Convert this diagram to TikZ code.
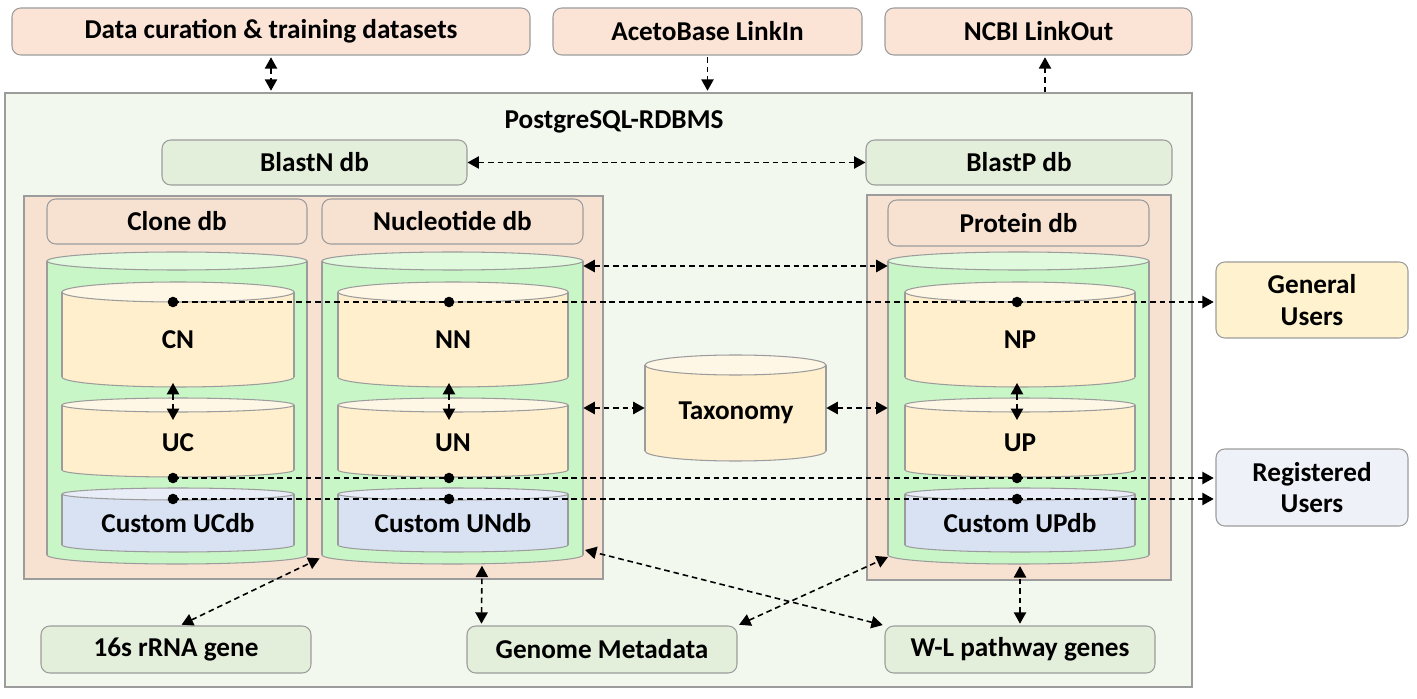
\documentclass[tikz,border=0pt]{standalone}
\usepackage{fontspec}
\setmainfont{Carlito}
\usetikzlibrary{arrows.meta,fit,calc}
\definecolor{peachtop}{HTML}{FBE4D6}
\definecolor{peachcont}{HTML}{F7E2D2}
\definecolor{outerfill}{HTML}{F3F8EF}
\definecolor{greenbox}{HTML}{E4EFDB}
\definecolor{cylgreen}{HTML}{C9F6C6}
\definecolor{cylgreentop}{HTML}{DFFADD}
\definecolor{yel}{HTML}{FFEFCC}
\definecolor{yeltop}{HTML}{FFF7E6}
\definecolor{blu}{HTML}{D9E2F3}
\definecolor{blutop}{HTML}{E8EDF8}
\definecolor{genfill}{HTML}{FFF2CE}
\definecolor{regfill}{HTML}{EEF2F8}
\definecolor{bordergray}{HTML}{9C9C9C}
\newcommand\dbcyl[9]{%
  \fill[#8, draw=bordergray, line width=0.6pt] ({(#2+#3)/2},#5) ellipse [x radius={(#3-#2)/2}, y radius=#7];
  \fill[#8] (#2,#4) rectangle (#3,#5);
  \draw[bordergray, line width=0.6pt] (#2,#4) -- (#2,#5) (#3,#4) -- (#3,#5);
  \filldraw[fill=#9, draw=bordergray, line width=0.6pt] ({(#2+#3)/2},#4) ellipse [x radius={(#3-#2)/2}, y radius=#6];
  \node[fit={(#2,#4-#6)(#3,#5+#7)}, inner sep=0pt] (#1) {};
}
\begin{document}
\begin{tikzpicture}[x=0.02cm,y=-0.02cm,
  font=\fontsize{15.5}{18}\selectfont\bfseries,
  box/.style={draw=bordergray, line width=0.6pt, rounded corners=5pt, inner sep=0pt},
  sqbox/.style={draw=bordergray, line width=0.6pt, inner sep=0pt},
  conn/.style={line width=0.9pt, dash pattern=on 3.2pt off 2.2pt},
  bi/.style={conn, {Triangle[length=6.5pt,width=7pt]}-{Triangle[length=6.5pt,width=7pt]}},
  uni/.style={conn, -{Triangle[length=6.5pt,width=7pt]}},
  dotn/.style={circle, fill=black, inner sep=0pt, minimum size=6pt},
  lbl/.style={inner sep=0pt, align=center}]
\useasboundingbox (0,0) rectangle (1417,699);
\fill[white] (0,0) rectangle (1417,699);

% top boxes
\node[box, fill=peachtop, fit={(12,8)(530,55)}] (data) {};
\node[lbl] at (data.center) {Data curation \& training datasets};
\node[box, fill=peachtop, fit={(553,8)(862,55)}] (aceto) {};
\node[lbl] at (aceto.center) {AcetoBase LinkIn};
\node[box, fill=peachtop, fit={(885,8)(1192,55)}] (ncbi) {};
\node[lbl] at (ncbi.center) {NCBI LinkOut};

% outer box
\node[sqbox, fill=outerfill, fit={(5,93)(1192,687)}] (outer) {};
\node[lbl] (pg) at (614,122) {PostgreSQL-RDBMS};

\node[box, fill=greenbox, fit={(162,140)(467,185)}] (blastn) {};
\node[lbl] at (blastn.center) {BlastN db};
\node[box, fill=greenbox, fit={(866,140)(1172,185)}] (blastp) {};
\node[lbl] at (blastp.center) {BlastP db};

% containers
\node[sqbox, fill=peachcont, fit={(24,196)(603,579)}] (leftcont) {};
\node[sqbox, fill=peachcont, fit={(867,195)(1171,580)}] (rightcont) {};
\node[box, fill=peachcont, fit={(47,199)(307,244)}] (clonedb) {};
\node[lbl] at (clonedb.center) {Clone db};
\node[box, fill=peachcont, fit={(322,199)(583,244)}] (nucdb) {};
\node[lbl] at (nucdb.center) {Nucleotide db};
\node[box, fill=peachcont, fit={(888,200)(1149,246)}] (protdb) {};
\node[lbl] at (protdb.center) {Protein db};

% green cylinders
\dbcyl{clonecyl}{47}{307}{261}{555}{9}{9}{cylgreen}{cylgreentop}
\dbcyl{nuccyl}{322}{583}{261}{555}{9}{9}{cylgreen}{cylgreentop}
\dbcyl{protcyl}{888}{1149}{261}{555}{9}{9}{cylgreen}{cylgreentop}

% inner cylinders
\dbcyl{cn}{62}{294}{292}{377}{10}{10}{yel}{yeltop}
\dbcyl{uc}{62}{294}{405}{470}{7}{7}{yel}{yeltop}
\dbcyl{cucdb}{62}{294}{494}{545}{6}{7}{blu}{blutop}
\dbcyl{nn}{338}{568}{292}{377}{10}{10}{yel}{yeltop}
\dbcyl{un}{338}{568}{405}{470}{7}{7}{yel}{yeltop}
\dbcyl{cundb}{338}{568}{494}{545}{6}{7}{blu}{blutop}
\dbcyl{np}{905}{1135}{292}{377}{10}{10}{yel}{yeltop}
\dbcyl{up}{905}{1135}{405}{470}{7}{7}{yel}{yeltop}
\dbcyl{cupdb}{905}{1135}{494}{545}{6}{7}{blu}{blutop}
\dbcyl{taxo}{645}{826}{365}{451}{10}{10}{yel}{yeltop}

\node[lbl] (tcn) at (178,340) {CN};
\node[lbl] (tuc) at (178,443) {UC};
\node[lbl] (tcuc) at (178,523) {Custom UCdb};
\node[lbl] (tnn) at (453,340) {NN};
\node[lbl] (tun) at (453,443) {UN};
\node[lbl] (tcun) at (453,523) {Custom UNdb};
\node[lbl] (tnp) at (1020,340) {NP};
\node[lbl] (tup) at (1020,443) {UP};
\node[lbl] (tcup) at (1020,523) {Custom UPdb};
\node[lbl] (ttaxo) at (736,413) {Taxonomy};

% users
\node[box, fill=genfill, fit={(1216,262)(1408,338)}] (general) {};
\node[lbl] at (general.center) {General\\Users};
\node[box, fill=regfill, fit={(1216,449)(1408,526)}] (registered) {};
\node[lbl] at (registered.center) {Registered\\Users};

% bottom boxes
\node[box, fill=greenbox, fit={(41,626)(311,673)}] (s16) {};
\node[lbl] at (s16.center) {16s rRNA gene};
\node[box, fill=greenbox, fit={(467,626)(737,673)}] (genome) {};
\node[lbl] at (genome.center) {Genome Metadata};
\node[box, fill=greenbox, fit={(885,626)(1155,673)}] (wl) {};
\node[lbl] at (wl.center) {W-L pathway genes};

% connectors
\draw[bi, shorten <=1pt, shorten >=1pt] (data.south) -- (data.south |- outer.north);
\draw[uni, shorten <=1pt, shorten >=1pt] (aceto.south) -- (aceto.south |- outer.north);
\draw[uni, shorten >=1pt] (outer.north -| 1045,0) -- (ncbi.south -| 1045,0);
\draw[bi] (blastn.east) -- (blastp.west);
\draw[bi] (nuccyl.east |- 0,266) -- (protcyl.west |- 0,266);
\draw[bi] (nuccyl.east |- taxo.west) -- (taxo.west);
\draw[bi] (taxo.east) -- (protcyl.west |- taxo.east);

\draw[bi] (173,383) -- (173,420);
\draw[bi] (449,383) -- (449,420);
\draw[bi] (1017,383) -- (1017,420);

\node[dotn] (d1) at (173,302) {};
\node[dotn] (d2) at (449,302) {};
\node[dotn] (d3) at (1017,302) {};
\node[dotn] (e1) at (173,478) {};
\node[dotn] (e2) at (449,478) {};
\node[dotn] (e3) at (1017,478) {};
\node[dotn] (f1) at (173,499) {};
\node[dotn] (f2) at (449,499) {};
\node[dotn] (f3) at (1017,499) {};

\draw[uni, shorten >=1pt] (d1.center) -- (d1 -| general.west);
\draw[uni, shorten >=1pt] (e1.center) -- (e1 -| registered.west);
\draw[uni, shorten >=1pt] (f1.center) -- (f1 -| registered.west);

\draw[bi, shorten <=1pt] (s16.north -| 180,0) -- ($(nuccyl.south west)+(-2,-6)$);
\draw[bi, shorten <=1pt, shorten >=1pt] ($(genome.north west)+(15,0)$) -- (482,564);
\draw[bi, shorten <=1pt] (wl.north west) -- (585,550);
\draw[bi, shorten <=1pt] (genome.north east) -- (888,557);
\draw[bi, shorten <=1pt, shorten >=1pt] (wl.north) -- (wl.north |- protcyl.south);
\end{tikzpicture}
\end{document}
